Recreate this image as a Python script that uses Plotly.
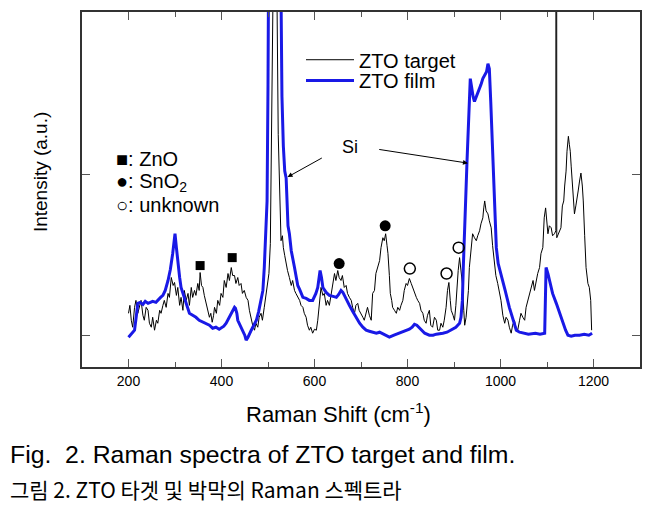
import plotly.graph_objects as go

# ---- data (intensity in arbitrary units) ----
target_x = [200,203,206,209,213,216,220,224,227,231,234,238,242,245,249,252,256,260,263,267,270,274,277,281,285,288,292,296,299,303,306,310,313,317,320,324,328,331,335,338,342,345,349,352,354,357,360,363,367,370,374,377,380,383,385,389,392,396,399,403,406,410,414,417,421,424,428,431,435,438,442,445,449,453,457,460,464,467,471,474,478,481,485,488,492,496,500,502,505,508,510.5,515,519.5,522,525,528,531,533,536,539,542,546,550,553,557,560,564,568,571,575,578,582,585,589,592,596,600,604,607,611,614,618,621,625,628,632,636,639,643,646,650,653,657,660,664,668,671,675,679,682,686,689,693,696,700,704,707,711,714,718,722,725,729,732,736,740,743,747,750,753,756,758,761,763,766,768,772,776,779,783,786,790,793,797,800,804,808,811,815,819,822,826,829,833,836,840,843,847,850,854,858,862,865,869,872,876,879,883,886,889,892,894,898,901,904,906,909,912,915,918,921,923,926,928,931,933,937,940,944,948,951,955,958,962,964,966,969,973,976,980,983,987,990,994,997,1001,1005,1009,1012,1016,1019,1023,1026,1030,1033,1037,1041,1044,1048,1052,1055,1059,1062,1066,1070,1073,1077,1080,1084,1087,1091,1094,1097,1100,1102,1105,1109,1112,1116,1119,1120,1121,1124,1127,1130,1133,1136,1138,1141,1143,1146,1148,1150,1152,1154,1157,1159,1162,1164,1167,1170,1173,1176,1178,1181,1184,1188,1191,1194,1196]
target_y = [22,30,15,8,28,35,22,30,35,20,15,28,25,12,8,18,5,15,12,25,22,30,35,28,42,38,58,50,53,40,48,30,38,25,45,35,42,30,48,38,45,40,52,45,63,50,48,40,32,25,18,22,13,20,28,22,35,30,42,38,55,48,62,55,68,60,60,52,58,50,52,42,45,38,35,25,15,10,5,12,8,18,22,15,28,40,55,62,92,200,330,1500,330,202,135,95,100,88,80,72,65,58,50,55,45,42,38,35,30,28,22,18,10,5,8,2,6,5,15,35,48,40,42,30,35,30,42,50,62,55,65,58,55,60,48,50,42,38,35,28,22,30,32,25,22,18,15,22,28,20,15,42,45,62,70,75,88,98,95,102,90,82,60,42,35,28,25,22,28,25,30,35,45,52,50,57,52,48,42,38,35,32,25,22,15,12,20,25,10,8,18,15,5,5,12,8,15,28,45,53,35,25,20,15,30,48,65,78,65,52,25,10,18,28,45,68,85,102,98,95,100,105,112,118,128,135,125,122,115,108,90,68,60,52,45,35,20,12,18,15,8,2,10,15,8,5,15,22,18,15,28,35,42,48,55,45,55,62,68,82,88,118,128,112,102,110,108,100,102,105,2000,98,102,105,108,130,135,150,165,185,200,192,185,170,155,138,122,130,138,145,155,163,150,135,100,68,52,48,35,5]

film_x = [200,204,208,213,217,220,225,231,236,242,247,252,259,264,269,274,279,285,290,295,298,300,303,306,310,313,317,324,331,338,345,352,360,367,374,381,388,395,399,405,410,417,424,428,430,433,435,440,446,450,453,457,464,470,475,480,485,489,492,495,498,500,502,507,514,521,527,530,533,536,539,543,546,550,557,564,568,575,582,589,596,603,607,610,612,615,618,625,632,640,647,652,657,661,668,675,682,690,697,704,711,718,725,733,740,750,761,771,783,794,804,810,815,820,826,831,837,847,855,862,870,876,885,893,898,904,908,912,915,918,920,923,925,928,932,935,937,939,941,944,948,951,955,958,962,966,970,973,976,979,982,985,988,991,995,1001,1010,1019,1027,1034,1041,1048,1060,1075,1085,1095,1097,1098,1102,1105,1112,1120,1127,1134,1140,1145,1152,1160,1170,1180,1190,1197]
film_y = [-2,0,2,5,20,32,33,31,34,32,33,34,33,36,38,40,45,55,66,82,92,102,88,72,58,48,42,30,22,20,18,15,13,12,10,7,8,6,7,9,12,18,25,28,27,22,15,10,5,0,-5,-2,5,10,15,24,35,45,68,95,135,250,330,700,1600,700,330,240,190,165,158,110,102,85,68,50,46,38,37,35,35,42,48,58,65,58,48,43,40,39,38,41,45,43,36,30,24,17,12,8,5,4,3,2,3,1,-2,0,2,4,6,8,11,10,7,4,2,0,0,1,2,2,3,5,6,8,10,12,18,35,68,100,135,175,235,258,252,245,240,235,240,242,248,252,258,262,265,273,268,235,200,150,120,88,72,62,45,28,15,5,3,2,1,2,1,2,40,68,62,55,42,32,22,12,5,0,-1,0,0,1,0,2]

zno_x, zno_y = [354, 423], [70, 78]
sno2_x, sno2_y = [653, 752], [72, 110]
unk_x, unk_y = [805, 884, 910], [67, 62, 88]

x_ticks = [200, 400, 600, 800, 1000, 1200]
y_ticks = [0, 162, 324]

FONT = "Arial, Liberation Sans, sans-serif"
BLUE = "rgb(25,25,230)"

# plot area in page pixels
L, R, T, B = 82, 640, 10, 367
PW, PH = R - L, B - T
def px(xp):
    return (xp - L) / PW
def py(yp):
    return (B - yp) / PH

fig = go.Figure()
fig.add_trace(go.Scatter(x=target_x, y=target_y, mode="lines", name="ZTO target",
                         legend="legend", line=dict(color="black", width=1)))
fig.add_trace(go.Scatter(x=film_x, y=film_y, mode="lines", name="ZTO film",
                         legend="legend2", line=dict(color=BLUE, width=3)))
fig.add_trace(go.Scatter(x=zno_x, y=zno_y, mode="markers", showlegend=False,
                         marker=dict(symbol="square", size=9, color="black")))
fig.add_trace(go.Scatter(x=sno2_x, y=sno2_y, mode="markers", showlegend=False,
                         marker=dict(symbol="circle", size=11, color="black")))
fig.add_trace(go.Scatter(x=unk_x, y=unk_y, mode="markers", showlegend=False,
                         marker=dict(symbol="circle-open", size=11, color="black",
                                     line=dict(width=1.5))))

ax_common = dict(showline=True, linecolor="#333", linewidth=1.5, mirror="ticks",
                 ticks="inside", tickcolor="#555", showgrid=False, zeroline=False)
fig.update_xaxes(range=[100, 1300], tickvals=x_ticks, ticklen=8,
                 tickfont=dict(family=FONT, size=14, color="black"),
                 minor=dict(dtick=100, tick0=100, ticklen=5, ticks="inside", tickcolor="#555"),
                 **ax_common)
fig.update_yaxes(range=[-32, 325], tickvals=y_ticks, showticklabels=False, ticklen=8,
                 **ax_common)

ann = []
ann.append(dict(text="Raman Shift (cm<sup>-1</sup>)", xref="paper", yref="paper",
                x=px(338), y=py(413), xanchor="center", yanchor="middle", showarrow=False,
                font=dict(family=FONT, size=22, color="black")))
ann.append(dict(text="Intensity (a.u.)", xref="paper", yref="paper", textangle=-90,
                x=px(40), y=py(171), xanchor="center", yanchor="middle", showarrow=False,
                font=dict(family=FONT, size=19, color="black")))
for t, yy in [("■: ZnO", 158), ("●: SnO<sub>2</sub>", 181), ("○: unknown", 204)]:
    ann.append(dict(text=t, xref="paper", yref="paper", x=px(114), y=py(yy),
                    xanchor="left", yanchor="middle", showarrow=False,
                    font=dict(family=FONT, size=20, color="black")))
ann.append(dict(text="Si", x=677, y=189, showarrow=False,
                font=dict(family=FONT, size=18, color="black")))
ann.append(dict(text="", x=542, y=159, ax=619, ay=179, axref="x", ayref="y",
                showarrow=True, arrowhead=2, arrowsize=1, arrowwidth=1, arrowcolor="black"))
ann.append(dict(text="", x=930, y=173, ax=736, ay=187, axref="x", ayref="y",
                showarrow=True, arrowhead=2, arrowsize=1, arrowwidth=1, arrowcolor="black"))
ann.append(dict(text="Fig.  2. Raman spectra of ZTO target and film.", xref="paper", yref="paper",
                x=px(8), y=py(455), xanchor="left", yanchor="middle", showarrow=False,
                font=dict(family=FONT, size=24.8, color="black")))
ann.append(dict(text="그림 2. ZTO 타겟 및 박막의 Raman 스펙트라", xref="paper", yref="paper",
                x=px(8), y=py(490), xanchor="left", yanchor="middle", showarrow=False,
                font=dict(family="Noto Sans CJK KR", size=21, color="black")))

leg_common = dict(xanchor="left", yanchor="middle", bgcolor="rgba(0,0,0,0)",
                  font=dict(family=FONT, size=20, color="black"), itemwidth=48,
                  borderwidth=0)
fig.update_layout(
    width=660, height=511,
    margin=dict(l=L, r=660 - R, t=T, b=511 - B),
    paper_bgcolor="white", plot_bgcolor="white",
    annotations=ann,
    legend=dict(x=px(301), y=py(58), **leg_common),
    legend2=dict(x=px(301), y=py(79), **leg_common),
)

fig.write_html("out.html", config={"displayModeBar": False},
               post_script="document.body.style.margin='0';")
